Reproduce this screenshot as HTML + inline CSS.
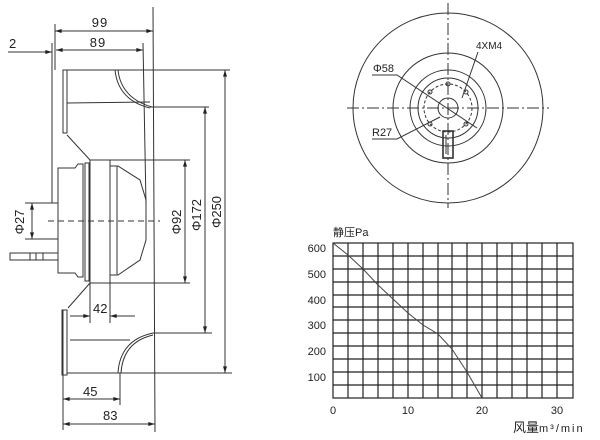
<!DOCTYPE html>
<html><head><meta charset="utf-8"><style>
html,body{margin:0;padding:0;background:#fff}
svg{display:block}
text{font-family:"Liberation Sans","Noto Sans CJK SC",sans-serif;fill:#222}
</style></head><body>
<svg width="600" height="440" viewBox="0 0 600 440" xmlns="http://www.w3.org/2000/svg">
<defs>
<marker id="a" viewBox="0 0 10 6" refX="10" refY="3" markerWidth="8" markerHeight="4" orient="auto-start-reverse"><path d="M0,0L10,3L0,6z" fill="#222"/></marker>
</defs>
<g stroke="#333" stroke-width="1" fill="none">
<line x1="55" y1="24" x2="55" y2="70"/>
<line x1="52" y1="43" x2="52" y2="203"/>
<line x1="143" y1="43" x2="146" y2="205"/>
<line x1="153" y1="7" x2="155" y2="432"/>
<line x1="63" y1="310" x2="63" y2="430"/>
<line x1="55" y1="31" x2="153" y2="31" marker-start="url(#a)" marker-end="url(#a)"/>
<line x1="56" y1="50" x2="143" y2="50" marker-start="url(#a)" marker-end="url(#a)"/>
<line x1="8" y1="52" x2="52" y2="52" marker-end="url(#a)"/>
<path d="M63,70 L67,70 L67,133 L63,133 Z"/>
<line x1="67" y1="70" x2="230" y2="70"/>
<line x1="67" y1="103" x2="150" y2="102"/>
<path d="M115,70 Q118,100 150,108"/>
<path d="M118,70 Q121,98 152,107"/>
<line x1="150" y1="107" x2="209" y2="107"/>
<line x1="67" y1="135" x2="90" y2="160"/>
<path d="M58,168 L75,168 L78,164 L83,164 L83,277 L78,277 L75,273 L58,273 Z"/>
<rect x="85" y="163" width="4" height="118"/>
<rect x="90" y="160" width="20" height="123"/>
<path d="M110,166 L118,166 L140,180 L146,200 L146,240 L140,260 L118,275 L110,275"/>
<line x1="117" y1="166" x2="117" y2="275"/>
<line x1="90" y1="160" x2="190" y2="160"/>
<line x1="90" y1="283" x2="190" y2="283"/>
<line x1="25" y1="203" x2="58" y2="203"/>
<line x1="25" y1="239" x2="58" y2="239"/>
<line x1="32" y1="203" x2="32" y2="239" marker-start="url(#a)" marker-end="url(#a)"/>
<line x1="48" y1="221" x2="160" y2="221" stroke-dasharray="6,4"/>
<rect x="10" y="253" width="48" height="7"/>
<line x1="30" y1="253" x2="30" y2="260"/>
<line x1="36" y1="253" x2="36" y2="260"/>
<line x1="43" y1="253" x2="43" y2="260"/>
<line x1="90" y1="283" x2="68" y2="308"/>
<path d="M62,310 L67,310 L67,375 L62,375 Z"/>
<line x1="67" y1="373" x2="232" y2="373"/>
<line x1="70" y1="340" x2="130" y2="340"/>
<path d="M118,373 Q120,340 153,333"/>
<path d="M121,373 Q123,342 153,335"/>
<line x1="120" y1="373" x2="120" y2="405"/>
<line x1="153" y1="333" x2="212" y2="333"/>
<line x1="90" y1="283" x2="90" y2="323"/>
<line x1="110" y1="283" x2="110" y2="323"/>
<line x1="70" y1="316" x2="90" y2="316" marker-end="url(#a)"/>
<line x1="110" y1="316" x2="135" y2="316" marker-start="url(#a)"/>
<line x1="63" y1="399" x2="120" y2="399" marker-start="url(#a)" marker-end="url(#a)"/>
<line x1="63" y1="424" x2="155" y2="424" marker-start="url(#a)" marker-end="url(#a)"/>
<line x1="185" y1="160" x2="185" y2="283" marker-start="url(#a)" marker-end="url(#a)"/>
<line x1="205" y1="107" x2="205" y2="333" marker-start="url(#a)" marker-end="url(#a)"/>
<line x1="225" y1="70" x2="225" y2="373" marker-start="url(#a)" marker-end="url(#a)"/>
</g>
<g font-size="13">
<text x="100" y="27" text-anchor="middle" letter-spacing="1">99</text>
<text x="98" y="47" text-anchor="middle" letter-spacing="1">89</text>
<text x="9" y="48">2</text>
<text x="93" y="313">42</text>
<text x="83" y="396">45</text>
<text x="103" y="420">83</text>
<text transform="translate(24,222) rotate(-90)" text-anchor="middle">Φ27</text>
<text transform="translate(181,222) rotate(-90)" text-anchor="middle">Φ92</text>
<text transform="translate(201,215) rotate(-90)" text-anchor="middle">Φ172</text>
<text transform="translate(221,212) rotate(-90)" text-anchor="middle">Φ250</text>
</g>
<g stroke="#333" stroke-width="1" fill="none">
<circle cx="448" cy="108" r="95"/>
<circle cx="448" cy="108" r="55"/>
<circle cx="448" cy="108" r="38"/>
<circle cx="448" cy="108" r="30"/>
<circle cx="448" cy="108" r="24" stroke-dasharray="3,2"/>
<circle cx="448" cy="108" r="10"/>
<circle cx="448" cy="84" r="2"/><circle cx="430" cy="92" r="2"/><circle cx="466" cy="92" r="2"/><circle cx="430" cy="124" r="2"/><circle cx="466" cy="124" r="2"/>
<line x1="347" y1="108" x2="549" y2="108" stroke-dasharray="12,3,2,3"/>
<line x1="448" y1="3" x2="448" y2="208" stroke-dasharray="12,3,2,3"/>
<rect x="443" y="131" width="10" height="27" stroke-width="1.6"/>
<line x1="446" y1="135" x2="446" y2="154"/>
<polyline points="372,75 397,75 477,128" />
<polyline points="372,139 397,139 440,117"/>
<polyline points="478,52 462,98"/>
</g>
<g font-size="10">
<text x="373" y="72" font-size="11">Φ58</text>
<text x="372" y="136" font-size="11">R27</text>
<text x="476" y="49">4XM4</text>
</g>
<g stroke="#222" stroke-width="1.2" fill="none">
<rect x="333" y="243" width="240" height="155"/>
<path d="M348,243V398M363,243V398M378,243V398M393,243V398M408,243V398M423,243V398M438,243V398M452,243V398M467,243V398M482,243V398M497,243V398M512,243V398M527,243V398M542,243V398M557,243V398"/>
<path d="M333,256H573M333,269H573M333,282H573M333,295H573M333,307H573M333,320H573M333,333H573M333,346H573M333,359H573M333,372H573M333,385H573"/>
</g>
<polyline fill="none" stroke="#444" stroke-width="1" points="333,243 348,255 363,269 378,285 393,299 408,313 423,325 438,334 452,349 467,372 482,398"/>
<g font-size="11">
<text x="333" y="236">静压Pa</text>
<text x="326" y="252" text-anchor="end">600</text>
<text x="326" y="278" text-anchor="end">500</text>
<text x="326" y="304" text-anchor="end">400</text>
<text x="326" y="329" text-anchor="end">300</text>
<text x="326" y="355" text-anchor="end">200</text>
<text x="326" y="381" text-anchor="end">100</text>
<text x="333" y="414" text-anchor="middle">0</text>
<text x="408" y="414" text-anchor="middle">10</text>
<text x="482" y="414" text-anchor="middle">20</text>
<text x="557" y="414" text-anchor="middle">30</text>
<text x="513" y="432" font-size="13">风量<tspan font-size="11" letter-spacing="2">m³/min</tspan></text>
</g>
</svg>
</body></html>
